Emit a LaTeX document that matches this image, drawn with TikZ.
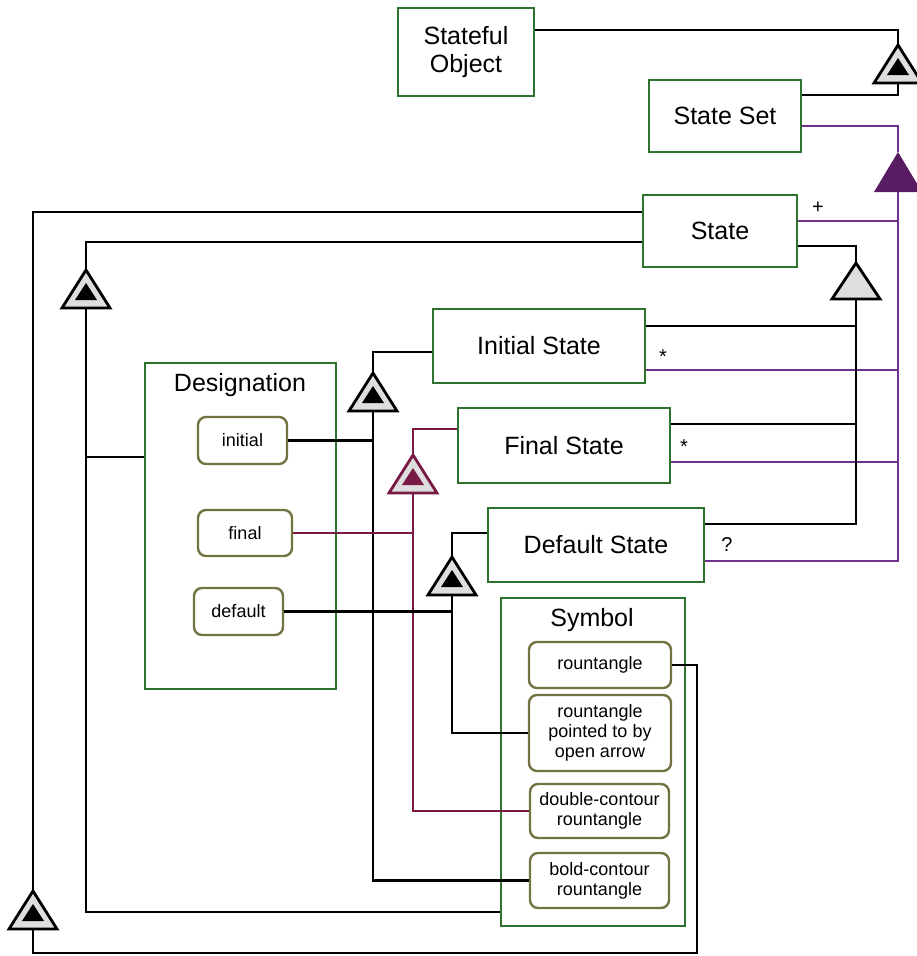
\documentclass[tikz,border=0pt]{standalone}
\usepackage{fontspec}
\setmainfont{Liberation Sans}
\definecolor{verde}{RGB}{45,115,45}
\definecolor{oliva}{RGB}{115,115,65}
\definecolor{violalinea}{RGB}{112,48,140}
\definecolor{violapieno}{RGB}{88,28,98}
\definecolor{bordeaux}{RGB}{120,25,70}
\definecolor{fascia}{RGB}{222,222,222}
\tikzset{
  classe/.style={draw=verde, line width=2.8pt, inner sep=0pt, align=center,
    font=\fontsize{25}{28}\selectfont},
  voce/.style={draw=oliva, line width=2.4pt, rounded corners=8pt, inner sep=0pt,
    align=center, font=\fontsize{18}{20}\selectfont},
  molt/.style={font=\fontsize{20}{22}\selectfont},
  pics/doppio/.style={code={
    \draw[#1, fill=fascia] (0,0) -- (-24,38) -- (24,38) -- cycle;
    \fill[#1] (0,13) -- (-11,30) -- (11,30) -- cycle;
    \coordinate (-top) at (0,0);
    \coordinate (-bot) at (0,38);
  }},
  pics/pieno/.style={code={
    \fill[#1] (0,0) -- (-24,40) -- (24,40) -- cycle;
    \coordinate (-top) at (0,0);
    \coordinate (-bot) at (0,40);
  }},
  pics/vuoto/.style={code={
    \draw[black, fill=fascia] (0,0) -- (-24,36) -- (24,36) -- cycle;
    \coordinate (-top) at (0,0);
    \coordinate (-bot) at (0,36);
  }}
}
\begin{document}
\begin{tikzpicture}[x=1pt, y=-1pt, line width=2.8pt]
    \useasboundingbox (0,0) rectangle (916,956);

    % Classi
    \node[classe, minimum width=136pt, minimum height=88pt] (stateful) at (466,52) {Stateful\\Object};
    \node[classe, minimum width=152pt, minimum height=72pt] (stateset) at (725,116) {State Set};
    \node[classe, minimum width=154pt, minimum height=72pt] (state) at (720,231) {State};
    \node[classe, minimum width=212pt, minimum height=74pt] (initial) at (539,346) {Initial State};
    \node[classe, minimum width=212pt, minimum height=75pt] (final) at (564,445.5) {Final State};
    \node[classe, minimum width=216pt, minimum height=74pt] (default) at (596,545) {Default State};

    % Designation
    \node[classe, minimum width=191pt, minimum height=326pt] (desig) at (240.5,526) {};
    \node[font=\fontsize{25}{28}\selectfont] (desigtitolo) at (240,385) {Designation};
    \node[voce, minimum width=89pt, minimum height=47pt] (desinit) at (242.5,440.5) {initial};
    \node[voce, minimum width=94pt, minimum height=46pt] (desfinal) at (245,533) {final};
    \node[voce, minimum width=89pt, minimum height=47pt] (desdef) at (238.5,611.5) {default};

    % Symbol
    \node[classe, minimum width=184pt, minimum height=328pt] (symbol) at (593,762) {};
    \node[font=\fontsize{25}{28}\selectfont] (symtitolo) at (592,620) {Symbol};
    \node[voce, minimum width=142pt, minimum height=46pt] (rount) at (600,665) {rountangle};
    \node[voce, minimum width=142pt, minimum height=76pt] (pointed) at (600,733) {rountangle\\pointed to by\\open arrow};
    \node[voce, minimum width=139pt, minimum height=54pt] (double) at (599.5,811) {double-contour\\rountangle};
    \node[voce, minimum width=139pt, minimum height=55pt] (bold) at (599.5,880.5) {bold-contour\\rountangle};

    % Triangoli
    \coordinate (t1pos) at (898,45);
    \coordinate (t2pos) at (898,152);
    \coordinate (t3pos) at (856,263);
    \coordinate (t4pos) at (86,270);
    \coordinate (t5pos) at (33,891);
    \coordinate (t6pos) at (373,373);
    \coordinate (t7pos) at (413,455);
    \coordinate (t8pos) at (452,557);
    \coordinate (rtail) at (697,953);

    \pic (t1) at (t1pos) {doppio=black};
    \pic (t2) at (t2pos) {pieno=violapieno};
    \pic (t3) at (t3pos) {vuoto};
    \pic (t4) at (t4pos) {doppio=black};
    \pic (t5) at (t5pos) {doppio=black};
    \pic (t6) at (t6pos) {doppio=black};
    \pic (t7) at (t7pos) {doppio=bordeaux};
    \pic (t8) at (t8pos) {doppio=black};

    % Stateful Object / State Set
    \draw ([yshift=22pt]stateful.east) -| (t1-top);
    \draw (t1-bot) |- ([yshift=21pt]stateset.east);

    % State Set (viola)
    \draw[violalinea] ([yshift=-10pt]stateset.east) -| (t2-top);
    \draw[violalinea] (t2-bot) |- ([yshift=10pt]state.east);
    \draw[violalinea] (t2-bot) |- ([yshift=-24pt]initial.east);
    \draw[violalinea] (t2-bot) |- ([yshift=-16.5pt]final.east);
    \draw[violalinea] (t2-bot) |- ([yshift=-16pt]default.east);

    % Molteplicita
    \node[molt] (piu) at (818,208) {+};
    \node[molt] (star1) at (663,357) {*};
    \node[molt] (star2) at (684,447) {*};
    \node[molt] (quest) at (727,545) {?};

    % State e sottoclassi
    \draw ([yshift=-15pt]state.east) -| (t3-top);
    \draw (t3-bot) |- ([yshift=20pt]initial.east);
    \draw (t3-bot) |- ([yshift=21.5pt]final.east);
    \draw (t3-bot) |- ([yshift=21pt]default.east);

    % State verso sinistra
    \draw ([yshift=19pt]state.west) -| (t5-top);
    \draw ([yshift=-11pt]state.west) -| (t4-top);
    \draw (t4-bot) |- ([yshift=69pt]desig.west);
    \draw (t4-bot) |- ([yshift=-150pt]symbol.west);
    \draw (t5-bot) |- (rtail) |- (rount.east);

    % Initial State
    \draw ([yshift=-6pt]initial.west) -| (t6-top);
    \draw (t6-bot) |- (bold.west);
    \draw (desinit.east) -- (desinit.east -| t6-bot);

    % Final State
    \draw[bordeaux] ([yshift=16.5pt]final.west) -| (t7-top);
    \draw[bordeaux] (t7-bot) |- (double.west);
    \draw[bordeaux] (desfinal.east) -- (desfinal.east -| t7-bot);

    % Default State
    \draw ([yshift=12pt]default.west) -| (t8-top);
    \draw (t8-bot) |- (pointed.west);
    \draw (desdef.east) -- (desdef.east -| t8-bot);
\end{tikzpicture}
\end{document}
